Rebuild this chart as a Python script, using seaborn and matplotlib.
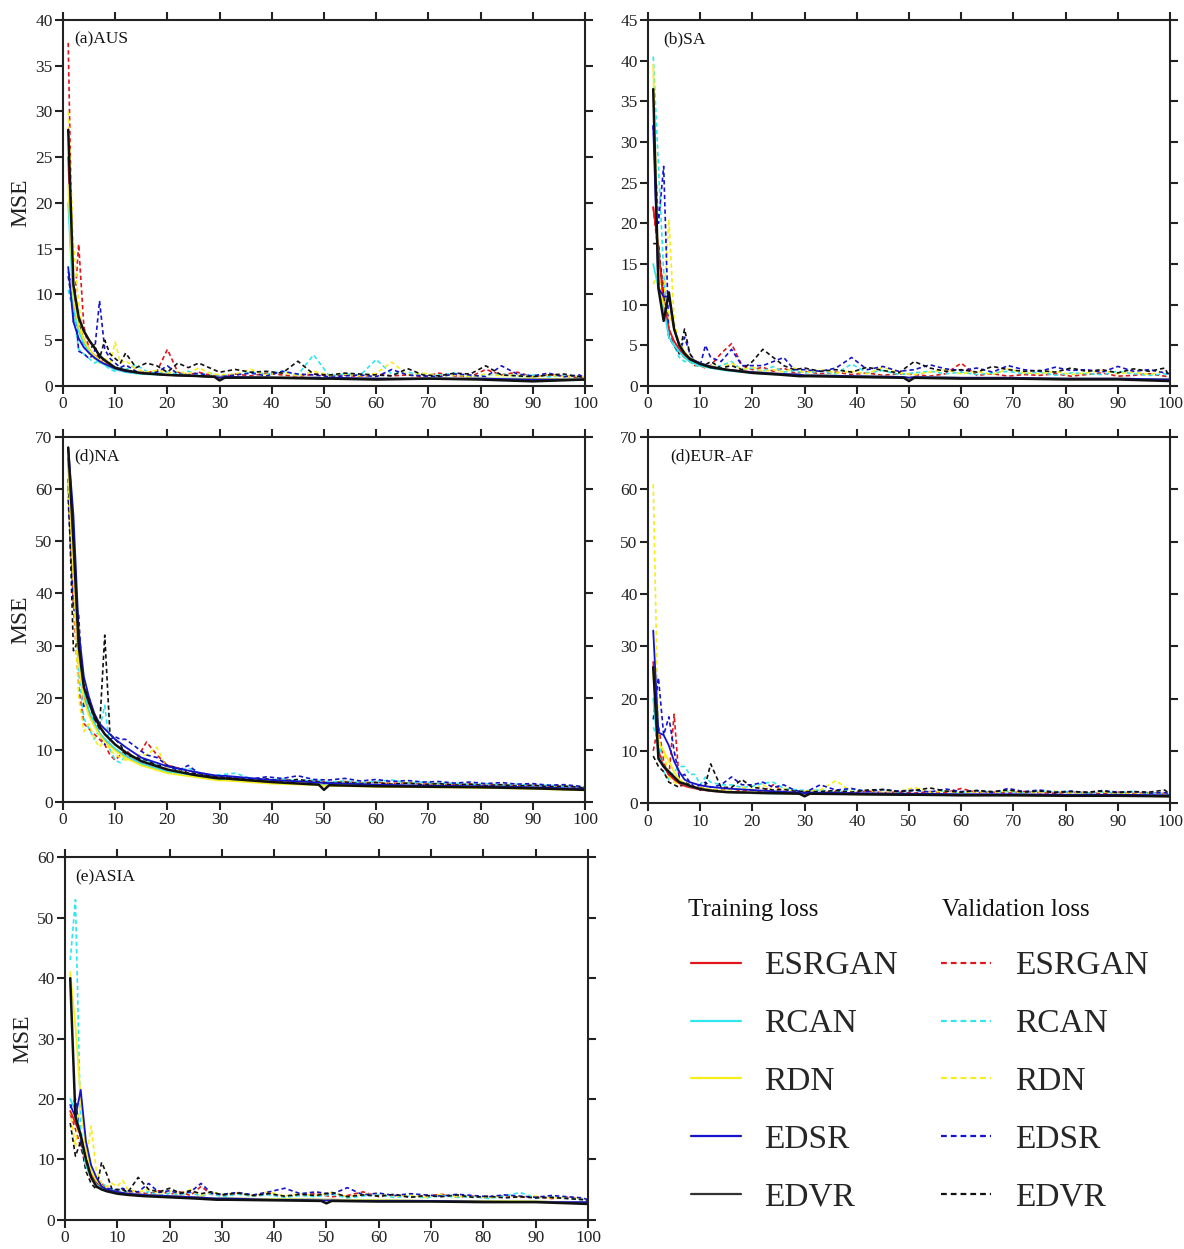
import matplotlib
matplotlib.use("Agg")
import matplotlib.pyplot as plt
from matplotlib.lines import Line2D
import seaborn as sns

train_epochs = [1, 2, 3, 4, 5, 6, 7, 8, 10, 12, 15, 20, 25, 29, 30, 31,
                40, 49, 50, 51, 60, 70, 80, 90, 100]
val_epochs = [1, 2, 3, 4, 5, 6, 7, 8, 9, 10, 11, 12,
              14, 16, 18, 20, 22, 24, 26, 28, 30,
              33, 36, 39, 42, 45, 48, 51, 54, 57, 60, 63, 66,
              69, 72, 75, 78, 81, 84, 87, 90, 93, 96, 99, 100]

models = ["ESRGAN", "RCAN", "RDN", "EDSR", "EDVR"]
colors = {"ESRGAN": "#e0161c", "RCAN": "#2ee6ee", "RDN": "#f6ee1a",
          "EDSR": "#1414cc", "EDVR": "#111111"}

# ---------------- (a) AUS ----------------
aus_tr_esrgan = [25, 9, 6.5, 5, 4, 3.3, 2.8, 2.4,
                 1.9, 1.6, 1.4, 1.2, 1.1, 1.0, 0.9, 1.0,
                 0.9, 0.9, 0.8, 0.9, 0.8, 0.8, 0.8, 0.7, 0.7]
aus_tr_rcan = [20, 8.5, 6, 4.6, 3.8, 3.1, 2.6, 2.3,
               1.8, 1.5, 1.3, 1.2, 1.1, 1.0, 0.9, 1.0,
               0.9, 0.9, 0.8, 0.9, 0.8, 0.8, 0.8, 0.8, 0.7]
aus_tr_rdn = [22, 9.5, 6.5, 5, 4, 3.3, 2.8, 2.4,
              1.9, 1.6, 1.4, 1.2, 1.1, 1.0, 0.9, 1.0,
              0.9, 0.9, 0.8, 0.9, 0.8, 0.8, 0.8, 0.8, 0.7]
aus_tr_edsr = [13, 7, 5.2, 4.2, 3.6, 3.1, 2.7, 2.4,
               1.9, 1.6, 1.4, 1.2, 1.1, 1.0, 0.9, 1.0,
               0.9, 0.9, 0.8, 0.9, 0.8, 0.8, 0.8, 0.7, 0.7]
aus_tr_edvr = [28, 11, 7.5, 6, 5, 4.2, 3.3, 2.8,
               2.0, 1.7, 1.4, 1.2, 1.1, 1.0, 0.6, 0.9,
               0.9, 0.8, 0.8, 0.8, 0.7, 0.8, 0.7, 0.5, 0.7]

aus_va_esrgan = [37.5, 7, 15.5, 6.5, 4, 3, 3.5, 2.5, 2.2, 2, 1.8, 1.6,
                 1.5, 1.5, 1.6, 4, 1.5, 1.2, 1.5, 1.2, 1.0,
                 1.3, 1.1, 1.4, 1.2, 1.0, 1.3, 1.1, 1.2, 1.0, 1.3, 1.1, 1.2,
                 1.0, 1.4, 1.1, 1.0, 1.8, 1.2, 1.5, 1.0, 1.2, 1.1, 0.9, 0.8]
aus_va_rcan = [10.5, 8, 4, 3.5, 3, 2.5, 2.8, 2.3, 1.8, 1.6, 2, 1.8,
               2.3, 1.6, 1.4, 1.5, 1.3, 1.6, 1.2, 1.4, 1.1,
               1.2, 1.5, 1.3, 1.6, 1.2, 3.4, 1.1, 1.3, 1.2, 2.9, 1.3, 1.5,
               1.1, 1.2, 1.4, 1.0, 1.2, 1.3, 1.1, 1.2, 1.0, 1.1, 1.0, 0.9]
aus_va_rdn = [30, 15.5, 9, 5, 3.5, 3, 2.5, 3, 2.5, 4.8, 2.5, 2.8,
              1.8, 1.5, 1.7, 1.4, 1.6, 1.3, 2.0, 1.4, 1.2,
              1.3, 1.8, 1.2, 1.5, 1.1, 1.6, 1.2, 1.3, 1.1, 1.4, 2.6, 1.2,
              1.4, 1.1, 1.2, 1.0, 1.3, 1.1, 1.2, 1.0, 1.2, 1.0, 1.1, 1.0]
aus_va_edsr = [12.5, 11, 3.8, 3.5, 3, 3.5, 9.3, 4, 3, 2.5, 2, 2.3,
               1.6, 1.3, 1.5, 2.2, 1.3, 1.2, 1.4, 1.1, 1.0,
               1.2, 1.4, 1.1, 1.6, 1.3, 1.2, 1.0, 1.1, 1.2, 1.0, 1.8, 1.2,
               1.1, 1.0, 1.3, 1.2, 1.0, 2.2, 1.3, 1.1, 1.4, 1.0, 1.2, 0.8]
aus_va_edvr = [12, 8, 7, 4.5, 4, 4.5, 3, 5, 3.5, 3, 2.5, 3.6,
               2, 2.5, 2.2, 1.5, 2.5, 2, 2.5, 2, 1.5,
               1.8, 1.5, 1.6, 1.4, 2.7, 1.3, 1.2, 1.4, 1.3, 1.2, 1.1, 1.9,
               1.2, 1.1, 1.4, 1.3, 2.2, 1.2, 1.1, 1.0, 1.2, 1.3, 1.0, 0.9]

# ---------------- (b) SA ----------------
sa_tr_esrgan = [22, 17, 10, 7, 5.5, 4.5, 3.8, 3.3,
                2.7, 2.3, 2.0, 1.7, 1.5, 1.4, 1.3, 1.3,
                1.2, 1.1, 1.0, 1.1, 1.0, 1.0, 0.9, 0.9, 0.8]
sa_tr_rcan = [15, 12, 9.5, 6, 5, 4.2, 3.5, 3.0,
              2.5, 2.2, 1.9, 1.6, 1.4, 1.3, 1.2, 1.3,
              1.2, 1.1, 1.0, 1.1, 1.0, 1.0, 0.9, 0.9, 0.8]
sa_tr_rdn = [39.5, 12.5, 10, 9, 7, 5.2, 4.2, 3.5,
             2.8, 2.4, 2.0, 1.7, 1.5, 1.4, 1.3, 1.3,
             1.2, 1.1, 1.0, 1.1, 1.0, 1.0, 0.9, 0.9, 0.8]
sa_tr_edsr = [32, 12, 11, 11, 7, 5, 4, 3.4,
              2.8, 2.4, 2.0, 1.7, 1.5, 1.4, 1.3, 1.3,
              1.2, 1.1, 1.0, 1.1, 1.0, 1.0, 0.9, 0.9, 0.8]
sa_tr_edvr = [36.5, 12, 8, 11.5, 7, 5, 4, 3.3,
              2.7, 2.3, 2.0, 1.6, 1.4, 1.2, 1.2, 1.2,
              1.1, 1.0, 0.6, 1.0, 0.9, 0.9, 0.8, 0.8, 0.6]

sa_va_esrgan = [22, 16, 12, 7, 5, 4, 3.5, 3, 2.5, 2.5, 2.2, 2.5,
                4, 5.2, 2.5, 2, 2.3, 1.8, 2.2, 1.6, 1.8,
                1.5, 1.7, 1.4, 1.6, 1.3, 1.5, 1.4, 1.2, 1.5, 2.8, 1.3, 1.5,
                1.2, 1.4, 1.3, 1.5, 1.2, 1.4, 1.6, 1.2, 1.3, 1.5, 1.2, 1.1]
sa_va_rcan = [40.5, 27, 14, 6, 5, 3.5, 3, 3, 2.5, 2.5, 2.3, 2.2,
              2.5, 3, 2, 2.2, 1.8, 2.4, 1.7, 1.9, 1.6,
              1.8, 1.5, 2.7, 1.6, 1.9, 1.4, 1.6, 1.8, 1.5, 1.7, 1.4, 1.6,
              1.8, 1.5, 1.7, 1.3, 1.6, 1.5, 1.4, 1.8, 1.5, 1.3, 1.5, 1.2]
sa_va_rdn = [12.5, 14, 10, 20.5, 8, 5, 3.5, 3, 2.8, 2.5, 2.3, 2.5,
             2.2, 2.8, 2.0, 2.3, 1.8, 2.0, 1.7, 2.2, 1.6,
             2.0, 1.6, 1.8, 1.5, 2.3, 1.6, 1.4, 1.7, 2.0, 1.5, 1.8, 1.4,
             2.1, 1.6, 1.5, 1.8, 1.4, 1.6, 1.9, 1.5, 1.7, 1.4, 1.8, 1.3]
sa_va_edsr = [32, 20, 27, 6, 5, 4, 6, 4, 3, 2.5, 5, 3.5,
              3, 4.5, 2.5, 2.5, 2.5, 3, 3.5, 2, 2,
              1.8, 2.2, 3.5, 2.0, 2.4, 1.8, 2.0, 2.6, 2.1, 1.9, 2.2, 1.7,
              2.5, 2.0, 1.8, 2.3, 1.9, 2.0, 1.7, 2.4, 1.8, 2.0, 1.6, 1.5]
sa_va_edvr = [17.5, 17.5, 11, 6, 5, 4, 7, 4, 3, 2.5, 2.6, 3,
              2.2, 2.5, 2, 3, 4.5, 3.5, 2.5, 2, 2.2,
              1.8, 2.0, 1.7, 2.3, 1.9, 1.6, 3.0, 2.2, 1.8, 2.0, 1.7, 2.4,
              2.0, 1.8, 1.9, 1.7, 2.2, 1.8, 2.0, 1.6, 2.1, 1.8, 2.2, 1.0]

# ---------------- (d) NA ----------------
na_tr_esrgan = [66, 45, 28, 20, 17, 15, 13, 12,
                10, 8.8, 7.3, 5.8, 5.0, 4.4, 4.3, 4.3,
                3.7, 3.3, 3.2, 3.2, 3.0, 2.9, 2.8, 2.6, 2.3]
na_tr_rcan = [65, 46, 29, 21, 17.5, 15, 13.2, 12,
              10.2, 8.8, 7.3, 5.8, 5.0, 4.4, 4.3, 4.3,
              3.7, 3.3, 3.2, 3.2, 3.0, 2.9, 2.8, 2.6, 2.3]
na_tr_rdn = [64, 44, 27, 19.5, 16.5, 14.5, 12.8, 11.5,
             9.8, 8.4, 7.0, 5.5, 4.8, 4.2, 4.1, 4.1,
             3.5, 3.2, 3.1, 3.1, 2.9, 2.8, 2.7, 2.5, 2.2]
na_tr_edsr = [68, 55, 33, 24, 20, 17, 15, 14,
              12, 10.5, 8.5, 6.8, 5.8, 5.1, 5.0, 5.0,
              4.2, 3.7, 3.6, 3.6, 3.3, 3.1, 3.0, 2.8, 2.5]
na_tr_edvr = [68, 50, 30, 22, 19, 16.5, 14.5, 13,
              11, 9.5, 7.8, 6.2, 5.2, 4.6, 4.5, 4.5,
              3.8, 3.3, 2.3, 3.2, 3.0, 2.9, 2.8, 2.6, 2.3]

na_va_esrgan = [60, 38, 22, 15, 14, 13, 12, 11, 9, 8, 9, 10,
                8, 11.5, 9, 7, 6.5, 6, 5.5, 5, 4.8,
                4.5, 4.2, 4.0, 4.3, 3.9, 4.1, 3.7, 3.9, 3.6, 3.8, 3.5, 3.7,
                3.4, 3.5, 3.3, 3.4, 3.2, 3.3, 3.1, 3.2, 3.0, 3.1, 2.8, 2.5]
na_va_rcan = [61, 45, 25, 16, 14, 12, 14, 18.5, 10, 8, 7.5, 9,
              8, 8, 7, 6, 6, 6.5, 5.5, 5, 5.2,
              5.5, 4.5, 4.2, 4.4, 4.0, 4.2, 3.8, 4.0, 3.7, 3.9, 4.2, 3.6,
              3.8, 3.5, 3.6, 3.3, 3.5, 3.2, 3.4, 3.1, 3.2, 3.0, 2.9, 2.6]
na_va_rdn = [60, 42, 20, 13.5, 15, 12, 10.5, 12, 10, 9, 8.5, 8,
             9, 9, 10.5, 6, 6, 5.5, 5, 4.8, 4.5,
             4.2, 4.0, 3.8, 4.1, 3.7, 3.9, 3.6, 3.8, 3.5, 3.7, 3.4, 3.6,
             3.3, 3.4, 3.2, 3.3, 3.1, 3.2, 3.0, 3.1, 2.9, 3.0, 2.7, 2.4]
na_va_edsr = [58, 37, 36, 18, 20, 15, 13, 11, 12, 12.5, 12, 12,
              10.5, 9, 8.5, 7, 6, 7, 5.5, 5, 5,
              4.6, 4.4, 4.8, 4.5, 5.0, 4.3, 4.2, 4.5, 4.0, 4.3, 3.9, 4.1,
              3.8, 3.9, 3.6, 3.8, 3.5, 3.7, 3.4, 3.5, 3.2, 3.3, 3.0, 2.8]
na_va_edvr = [62, 29, 31, 22, 20, 16, 14, 32, 13, 12, 11, 9,
              8.5, 8, 7, 7, 6.5, 5.5, 5.5, 5, 4.8,
              4.5, 4.2, 4.4, 4.0, 4.3, 3.9, 3.6, 3.8, 3.5, 3.7, 3.4, 3.6,
              3.3, 3.5, 3.2, 3.4, 3.1, 3.3, 3.0, 3.2, 2.9, 3.0, 2.8, 2.5]

# ---------------- (d) EUR-AF ----------------
eu_tr_esrgan = [27, 10, 7, 5.5, 4.5, 3.8, 3.3, 3.0,
                2.6, 2.3, 2.1, 1.9, 1.8, 1.8, 1.7, 1.8,
                1.7, 1.6, 1.6, 1.6, 1.5, 1.5, 1.5, 1.4, 1.3]
eu_tr_rcan = [20, 9, 7, 6, 5, 4.2, 3.6, 3.2,
              2.7, 2.4, 2.1, 1.9, 1.8, 1.8, 1.7, 1.8,
              1.7, 1.6, 1.6, 1.6, 1.5, 1.5, 1.5, 1.4, 1.3]
eu_tr_rdn = [25, 11.5, 10, 8, 6, 4.5, 3.8, 3.3,
             2.8, 2.5, 2.2, 2.0, 1.9, 1.8, 1.7, 1.8,
             1.7, 1.7, 1.6, 1.6, 1.6, 1.5, 1.5, 1.4, 1.3]
eu_tr_edsr = [33, 13.5, 13, 11, 8, 6, 4.5, 4,
              3.4, 3.1, 2.8, 2.5, 2.2, 2.0, 1.8, 2.0,
              1.9, 1.8, 1.8, 1.8, 1.7, 1.7, 1.6, 1.6, 1.5]
eu_tr_edvr = [26, 8.5, 7, 6, 5, 4, 3.7, 3.3,
              2.7, 2.4, 2.1, 2.0, 1.9, 1.8, 1.3, 1.8,
              1.7, 1.6, 1.6, 1.6, 1.5, 1.5, 1.4, 1.4, 1.3]

eu_va_esrgan = [10, 15, 8, 5, 17, 4, 3, 3.5, 3, 3, 2.8, 2.5,
                2.5, 2.8, 2.3, 2.5, 2.2, 3.5, 2.2, 2.0, 2.1,
                2.0, 2.2, 1.9, 2.3, 2.0, 2.1, 1.9, 2.2, 2.0, 2.8, 2.0, 2.1,
                1.9, 2.2, 2.0, 1.9, 2.1, 2.0, 1.8, 2.1, 1.9, 2.0, 1.8, 1.6]
eu_va_rcan = [14.5, 12, 6, 4.5, 6, 7, 7, 5.5, 5.5, 3.5, 5, 4,
              3.5, 3.5, 3, 3.2, 3.8, 4, 2.8, 2.6, 2.4,
              2.5, 2.2, 2.6, 2.3, 2.5, 2.1, 2.4, 2.2, 2.3, 2.0, 2.3, 2.1,
              2.2, 2.0, 2.4, 2.1, 2.2, 1.9, 2.1, 2.0, 2.2, 1.9, 1.8, 1.6]
eu_va_rdn = [61, 12, 10, 5, 4, 3.5, 4, 3.2, 3, 2.8, 3, 2.5,
             2.8, 2.5, 3, 2.6, 3.5, 2.4, 2.8, 2.2, 2.3,
             2.5, 4.3, 2.2, 2.4, 2.0, 2.2, 3.0, 2.1, 2.3, 1.9, 2.2, 2.0,
             2.4, 1.9, 2.1, 2.3, 1.9, 2.0, 2.2, 1.8, 2.0, 1.9, 1.7, 1.6]
eu_va_edsr = [16, 24, 13, 16.5, 10, 5, 5.5, 4, 3, 3.5, 4, 3,
              3.5, 5, 3.5, 3.5, 4, 3, 3.5, 2.5, 2,
              3.5, 2.5, 2.8, 2.2, 2.6, 2.3, 2.5, 2.1, 2.7, 2.2, 2.4, 2.0,
              2.8, 2.2, 2.5, 2.1, 2.3, 2.0, 2.4, 2.1, 2.2, 1.9, 2.0, 1.8]
eu_va_edvr = [9, 7, 6, 4, 3.5, 3, 4, 3.5, 3, 2.5, 3.5, 7.5,
              3, 3, 4.5, 3, 2.8, 2.5, 2.6, 2.3, 2.2,
              2.2, 2.4, 2.1, 2.5, 2.6, 2.2, 2.4, 2.9, 2.3, 2.1, 2.4, 2.2,
              2.5, 2.1, 2.3, 2.0, 2.2, 2.1, 2.3, 2.0, 2.2, 2.1, 2.5, 1.7]

# ---------------- (e) ASIA ----------------
as_tr_esrgan = [18, 16, 14, 10, 7.5, 6, 5.3, 4.9,
                4.5, 4.3, 4.1, 3.9, 3.7, 3.5, 3.5, 3.5,
                3.4, 3.3, 3.3, 3.3, 3.2, 3.1, 3.1, 3.0, 2.8]
as_tr_rcan = [20, 18, 14, 9, 7, 5.8, 5.1, 4.7,
              4.4, 4.2, 4.0, 3.8, 3.6, 3.5, 3.5, 3.5,
              3.4, 3.3, 3.3, 3.3, 3.2, 3.1, 3.1, 3.0, 2.8]
as_tr_rdn = [41, 32, 20, 12, 8, 6.5, 5.6, 5.0,
             4.6, 4.3, 4.1, 3.9, 3.7, 3.5, 3.5, 3.5,
             3.4, 3.3, 3.3, 3.3, 3.2, 3.1, 3.1, 3.0, 2.8]
as_tr_edsr = [19, 17, 21.5, 13, 9, 7, 5.5, 5,
              4.6, 4.3, 4.1, 3.9, 3.7, 3.5, 3.5, 3.5,
              3.3, 3.2, 3.2, 3.2, 3.1, 3.1, 3.0, 2.9, 2.9]
as_tr_edvr = [40, 17, 14, 10, 7, 5.5, 5, 4.7,
              4.3, 4.1, 3.9, 3.7, 3.5, 3.3, 3.3, 3.3,
              3.2, 3.1, 2.7, 3.1, 3.0, 3.0, 2.9, 2.9, 2.6]

as_va_esrgan = [17.5, 15, 12, 9, 7, 6, 6, 5.2, 5, 4.8, 5, 4.6,
                4.5, 4.3, 4.8, 4.2, 4.6, 4.0, 5.5, 4.2, 4.0,
                4.3, 3.9, 4.4, 3.8, 4.1, 4.3, 3.8, 4.0, 4.6, 3.8, 4.1, 3.7,
                3.9, 4.2, 3.7, 3.9, 3.6, 4.0, 3.7, 3.8, 3.5, 3.7, 3.4, 3.1]
as_va_rcan = [43, 53, 15, 10, 8, 6.5, 6, 5.5, 5, 5, 4.8, 4.5,
              4.2, 4.6, 4.0, 4.4, 4.1, 4.5, 3.9, 4.3, 3.8,
              4.2, 3.9, 4.1, 3.7, 4.0, 3.8, 4.2, 3.6, 3.9, 4.1, 3.7, 3.9,
              3.6, 4.0, 3.7, 3.8, 3.5, 3.9, 4.5, 3.6, 3.8, 3.5, 3.4, 3.2]
as_va_rdn = [18, 12, 20, 10, 15.5, 8, 6, 5.5, 6, 5.5, 6.5, 5,
             4.6, 5.0, 4.4, 4.8, 4.2, 5.0, 4.0, 4.6, 4.2,
             4.4, 4.0, 4.6, 3.9, 4.3, 4.0, 4.5, 3.8, 4.2, 4.4, 3.9, 4.1,
             3.7, 4.2, 3.8, 4.0, 3.6, 4.1, 3.8, 3.9, 3.6, 3.8, 3.5, 3.3]
as_va_edsr = [18.5, 20, 13, 10, 8, 6, 5.5, 5.2, 5, 4.8, 5.2, 4.8,
              4.6, 6, 4.5, 4.8, 4.3, 4.6, 6, 4.4, 4.2,
              4.5, 4.1, 4.6, 5.2, 4.3, 4.6, 4.2, 5.3, 4.1, 4.4, 4.0, 4.3,
              4.1, 3.9, 4.2, 4.0, 3.8, 4.1, 3.9, 3.7, 4.0, 3.8, 3.6, 3.3]
as_va_edvr = [16, 10.5, 13, 8, 6, 5, 9.5, 7.5, 5, 5, 5, 4.5,
              7, 5, 4.6, 5.2, 4.4, 4.8, 4.3, 4.6, 4.1,
              4.4, 4.0, 4.3, 3.9, 4.2, 4.0, 4.5, 3.8, 4.1, 3.9, 4.2, 3.7,
              4.0, 3.8, 4.1, 3.7, 3.9, 3.6, 3.8, 3.6, 3.7, 3.5, 3.3, 3.0]

panels = [
    ("(a)AUS", 40, 5,
     [aus_tr_esrgan, aus_tr_rcan, aus_tr_rdn, aus_tr_edsr, aus_tr_edvr],
     [aus_va_esrgan, aus_va_rcan, aus_va_rdn, aus_va_edsr, aus_va_edvr]),
    ("(b)SA", 45, 5,
     [sa_tr_esrgan, sa_tr_rcan, sa_tr_rdn, sa_tr_edsr, sa_tr_edvr],
     [sa_va_esrgan, sa_va_rcan, sa_va_rdn, sa_va_edsr, sa_va_edvr]),
    ("(d)NA", 70, 10,
     [na_tr_esrgan, na_tr_rcan, na_tr_rdn, na_tr_edsr, na_tr_edvr],
     [na_va_esrgan, na_va_rcan, na_va_rdn, na_va_edsr, na_va_edvr]),
    ("(d)EUR-AF", 70, 10,
     [eu_tr_esrgan, eu_tr_rcan, eu_tr_rdn, eu_tr_edsr, eu_tr_edvr],
     [eu_va_esrgan, eu_va_rcan, eu_va_rdn, eu_va_edsr, eu_va_edvr]),
    ("(e)ASIA", 60, 10,
     [as_tr_esrgan, as_tr_rcan, as_tr_rdn, as_tr_edsr, as_tr_edvr],
     [as_va_esrgan, as_va_rcan, as_va_rdn, as_va_edsr, as_va_edvr]),
]

sns.set_style("ticks")
plt.rcParams["font.family"] = ["Liberation Serif", "DejaVu Serif"]
plt.rcParams["axes.linewidth"] = 1.5
plt.rcParams["axes.edgecolor"] = "#222222"

fig = plt.figure(figsize=(11.84, 12.49), dpi=100)

# axes rectangles (figure fraction)
rects = [
    [0.0532, 0.691, 0.4409, 0.293],
    [0.5473, 0.691, 0.4409, 0.293],
    [0.0532, 0.358, 0.4409, 0.292],
    [0.5473, 0.357, 0.4409, 0.293],
    [0.0549, 0.0235, 0.4417, 0.290],
]
title_x = [0.022, 0.03, 0.022, 0.042, 0.019]

dash = (0, (2.6, 1.8))

for k, (title, ymax, ystep, trs, vas) in enumerate(panels):
    ax = fig.add_axes(rects[k])
    # validation curves (dashed) first, training on top
    for name, vals in zip(models, vas):
        sns.lineplot(x=val_epochs, y=vals, ax=ax, color=colors[name],
                     linewidth=1.2, linestyle=dash)
    for name, vals in zip(models, trs):
        lw = 1.8 if name == "EDVR" else 1.3
        sns.lineplot(x=train_epochs, y=vals, ax=ax, color=colors[name],
                     linewidth=lw)

    ax.set_xlim(0, 100)
    ax.set_ylim(0, ymax)
    ax.set_xticks(range(0, 101, 10))
    ax.set_yticks(range(0, ymax + 1, ystep))
    ax.tick_params(direction="out", top=True, right=True, labeltop=False,
                   labelright=False, length=5.5, width=1.5, labelsize=12.5,
                   colors="#222222", pad=2)
    ax.set_xlabel("")
    if k in (0, 2, 4):
        ax.set_ylabel("MSE", fontsize=17, color="#222222")
        ax.yaxis.set_label_coords(-0.06, 0.5)
    else:
        ax.set_ylabel("")
    ax.text(title_x[k], 0.968, title, transform=ax.transAxes, fontsize=12.5,
            va="top", ha="left", color="#111111")

# legend block
fig.text(0.581, 0.2714, "Training loss", fontsize=18, va="center",
         ha="left", color="#111111")
fig.text(0.7956, 0.2714, "Validation loss", fontsize=18, va="center",
         ha="left", color="#111111")

handles = []
labels = []
for name in models:
    c = "#333333" if name == "EDVR" else colors[name]
    handles.append(Line2D([], [], color=c, linewidth=1.6))
    labels.append(name)
for name in models:
    handles.append(Line2D([], [], color=colors[name], linewidth=1.6,
                          linestyle=dash))
    labels.append(name)

fig.legend(handles, labels, ncol=2, loc="upper left",
           bbox_to_anchor=(0.5836, 0.2386), frameon=False, fontsize=24,
           handlelength=1.5, handletextpad=0.7, columnspacing=1.3,
           labelspacing=0.82, borderpad=0, borderaxespad=0)

plt.savefig("out.png", dpi=100)
